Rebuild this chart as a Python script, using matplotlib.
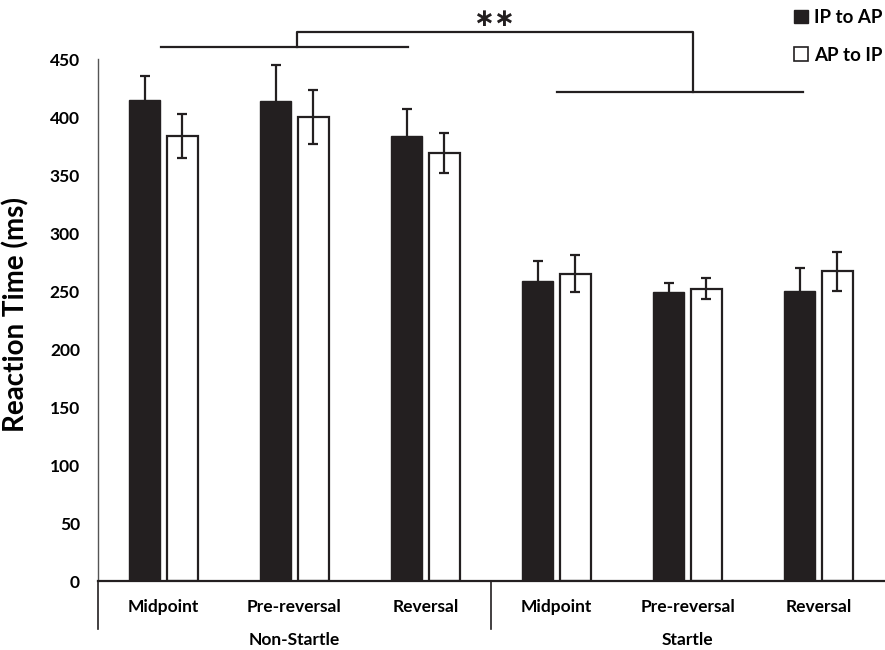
import matplotlib.pyplot as plt
from matplotlib.patches import Patch

plt.rcParams['font.family'] = ['Lato', 'DejaVu Sans']
plt.rcParams['font.weight'] = 'bold'

# Data
categories = ['Midpoint', 'Pre-reversal', 'Reversal', 'Midpoint', 'Pre-reversal', 'Reversal']
groups = ['Non-Startle', 'Startle']
ip_to_ap = [415, 414, 384, 259, 249, 250]
ip_to_ap_err = [20, 31, 23, 17, 8, 20]
ap_to_ip = [384, 400, 369, 265, 252, 267]
ap_to_ip_err = [19, 23, 17, 16, 9, 17]

dark = '#231f20'
x = list(range(len(categories)))
w = 0.23
off = 0.145

fig = plt.figure(figsize=(8.85, 6.5), dpi=100)
ax = fig.add_axes([98 / 885, 1 - 581 / 650, 786 / 885, 580 / 650])

ax.bar([i - off for i in x], ip_to_ap, width=w, color=dark, edgecolor=dark,
       yerr=ip_to_ap_err, error_kw=dict(ecolor=dark, elinewidth=1.6, capsize=3.5, capthick=1.6))
ax.bar([i + off for i in x], ap_to_ip, width=w, color='white', edgecolor=dark, linewidth=1.6,
       yerr=ap_to_ip_err, error_kw=dict(ecolor=dark, elinewidth=1.6, capsize=3.5, capthick=1.6))

ax.set_xlim(-0.5, 5.5)
ax.set_ylim(0, 500)
ax.set_yticks(range(0, 451, 50))
ax.tick_params(axis='y', length=0, pad=13, labelsize=12.5)
ax.tick_params(axis='x', length=0, pad=13, labelsize=12.5)
ax.set_xticks(x)
ax.set_xticklabels(categories)
for s in ['top', 'right']:
    ax.spines[s].set_visible(False)
ax.spines['left'].set_bounds(0, 450)
ax.spines['left'].set_color('#555555')
ax.spines['left'].set_linewidth(1.0)
ax.spines['bottom'].set_color(dark)
ax.spines['bottom'].set_linewidth(1.6)

ax.set_ylabel('Reaction Time (ms)', fontsize=20, fontweight='bold')
ax.yaxis.set_label_coords(-0.087, 0.5 * 450 / 500 + 0.01)

# group labels and separators below the axis
trans = ax.get_xaxis_transform()
for xs in [-0.5, 2.5]:
    ax.plot([xs, xs], [0, -0.083], transform=trans, color=dark, lw=1.2, clip_on=False)
for gi, g in enumerate(groups):
    ax.text(1 + 3 * gi, -0.102, g, transform=trans, ha='center', va='center', fontsize=12.5)

# significance bracket
ax.plot([-0.02, 1.87], [460, 460], color=dark, lw=1.6, clip_on=False)
ax.plot([1.02, 1.02, 4.04, 4.04], [460, 473, 473, 421.5], color=dark, lw=1.6, clip_on=False)
ax.plot([3.0, 4.88], [421.5, 421.5], color=dark, lw=1.6, clip_on=False)
ax.text(2.52, 474, '∗∗', ha='center', va='bottom', fontsize=18, color=dark,
        family='DejaVu Sans')

handles = [Patch(facecolor=dark, edgecolor=dark), Patch(facecolor='white', edgecolor=dark, linewidth=1.2)]
fig.legend(handles, ['IP to AP', 'AP to IP'], loc='upper right', bbox_to_anchor=(1.016, 1.012),
           frameon=False, fontsize=13.5, handlelength=0.75, handleheight=0.75, handletextpad=0.3,
           labelspacing=1.1)

fig.savefig('out.png', dpi=100)
